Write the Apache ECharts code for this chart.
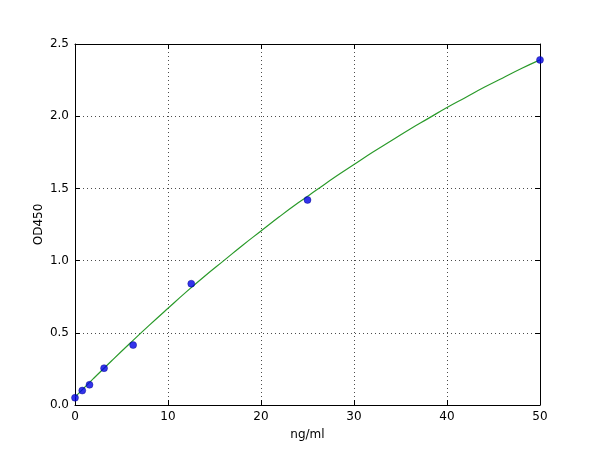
<!DOCTYPE html>
<html>
<head>
<meta charset="utf-8">
<script src="https://cdn.jsdelivr.net/npm/echarts@6/dist/echarts.min.js"></script>
<style>
  html, body { margin: 0; padding: 0; background: #fff; }
  #chart { width: 600px; height: 450px; }
</style>
</head>
<body>
<div id="chart"></div>
<script>
// standard points (ng/ml, OD450)
const stdConc = [0, 0.78, 1.56, 3.125, 6.25, 12.5, 25, 50];
const stdOD = [0.05, 0.10, 0.14, 0.255, 0.415, 0.84, 1.42, 2.39];

// fitted curve
const fitConc = [0, 2, 4, 6, 8, 10, 12, 14, 16, 18, 20, 22, 24, 26, 28, 30, 32, 34, 36, 38, 40, 42, 44, 46, 48, 50];
const fitOD = [0.055, 0.184, 0.31, 0.433, 0.553, 0.67, 0.785, 0.895, 1.0, 1.105, 1.205, 1.305, 1.40, 1.49, 1.58, 1.665, 1.75, 1.83, 1.91, 1.985, 2.06, 2.13, 2.20, 2.265, 2.33, 2.39];

const font = 'DejaVu Sans';
const tick = { show: true, inside: true, length: 5, lineStyle: { color: '#000' } };
const line = { show: true, onZero: false, lineStyle: { color: '#000', width: 1 } };
const grid = { show: true, lineStyle: { color: '#000', type: [1, 3], width: 1, opacity: 0.7 } };

let chart = echarts.init(document.getElementById('chart'));
chart.setOption({
  animation: false,
  backgroundColor: '#fff',
  grid: { left: 75, right: 60, top: 44, bottom: 45 },
  xAxis: [{
    type: 'value', min: 0, max: 50, interval: 10,
    name: 'ng/ml', nameLocation: 'middle', nameGap: 24,
    nameTextStyle: { fontFamily: font, fontSize: 12, color: '#000' },
    axisLine: line, axisTick: tick, splitLine: grid,
    axisLabel: { fontFamily: font, fontSize: 12, color: '#000', margin: 6 }
  }, {
    type: 'value', min: 0, max: 50, interval: 10, position: 'top',
    axisLine: line, axisTick: tick, splitLine: { show: false },
    axisLabel: { show: false }
  }],
  yAxis: [{
    type: 'value', min: 0, max: 2.5, interval: 0.5,
    name: 'OD450', nameLocation: 'middle', nameGap: 30, nameMoveOverlap: false,
    nameTextStyle: { fontFamily: font, fontSize: 12, color: '#000' },
    axisLine: line, axisTick: tick, splitLine: grid,
    axisLabel: { fontFamily: font, fontSize: 12, color: '#000', margin: 6,
      formatter: v => v.toFixed(1) }
  }, {
    type: 'value', min: 0, max: 2.5, interval: 0.5, position: 'right',
    axisLine: line, axisTick: tick, splitLine: { show: false },
    axisLabel: { show: false }
  }],
  series: [{
    type: 'line',
    data: fitConc.map((x, i) => [x, fitOD[i]]),
    smooth: true, showSymbol: false,
    lineStyle: { color: '#2a9a2a', width: 1.2 },
    z: 2
  }, {
    type: 'scatter',
    data: stdConc.map((x, i) => [x, stdOD[i]]),
    symbolSize: 7,
    itemStyle: { color: '#0000e6', borderColor: '#000080', borderWidth: 0.5 },
    z: 3
  }]
});
</script>
</body>
</html>
